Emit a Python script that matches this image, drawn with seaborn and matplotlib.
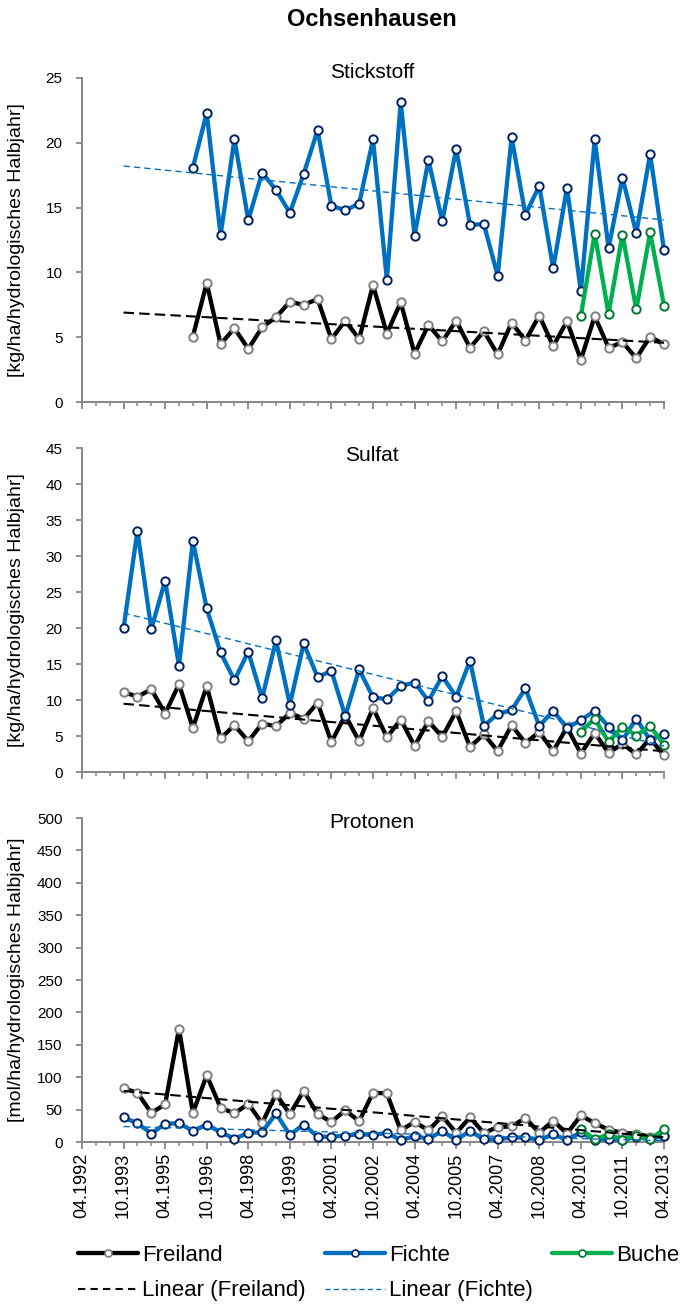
import numpy as np
import pandas as pd
import seaborn as sns
import matplotlib.pyplot as plt
from matplotlib.lines import Line2D
from matplotlib.ticker import MultipleLocator

# half-years from 10.1993 to 04.2013
halbjahre = ["10.1993", "04.1994", "10.1994", "04.1995", "10.1995", "04.1996", "10.1996",
             "04.1997", "10.1997", "04.1998", "10.1998", "04.1999", "10.1999", "04.2000",
             "10.2000", "04.2001", "10.2001", "04.2002", "10.2002", "04.2003", "10.2003",
             "04.2004", "10.2004", "04.2005", "10.2005", "04.2006", "10.2006", "04.2007",
             "10.2007", "04.2008", "10.2008", "04.2009", "10.2009", "04.2010", "10.2010",
             "04.2011", "10.2011", "04.2012", "10.2012", "04.2013"]

achsen_labels = ["04.1992", "10.1993", "04.1995", "10.1996", "04.1998", "10.1999", "04.2001",
                 "10.2002", "04.2004", "10.2005", "04.2007", "10.2008", "04.2010", "10.2011",
                 "04.2013"]

nan = np.nan

# Stickstoff [kg/ha/hydrologisches Halbjahr]
n_freiland = [nan] * 5 + [5.05, 9.18, 4.46, 5.69, 4.10, 5.77, 6.54, 7.74, 7.49, 7.95, 4.85, 6.28,
                          4.85, 9.03, 5.28, 7.69, 3.72, 5.95, 4.67, 6.28, 4.18, 5.46, 3.67, 6.13,
                          4.74, 6.67, 4.31, 6.23, 3.26, 6.62, 4.18, 4.62, 3.38, 5.05, 4.44]
n_fichte = [nan] * 5 + [18.08, 22.3, 12.87, 20.3, 14.03, 17.7, 16.36, 14.6, 17.6, 20.97, 15.13,
                        14.8, 15.3, 20.26, 9.44, 23.13, 12.82, 18.67, 13.95, 19.54, 13.67, 13.72,
                        9.74, 20.44, 14.46, 16.67, 10.31, 16.54, 8.54, 20.26, 11.87, 17.31, 13.03,
                        19.13, 11.72]
n_buche = [nan] * 33 + [6.64, 13.0, 6.79, 12.92, 7.15, 13.08, 7.44]

# Sulfat
s_freiland = [11.13, 10.44, 11.5, 8.12, 12.2, 6.12, 11.92, 4.68, 6.49, 4.27, 6.73, 6.35, 8.21,
              7.37, 9.6, 4.17, 7.88, 4.27, 8.9, 4.82, 7.28, 3.62, 7.05, 4.87, 8.44, 3.48, 5.24,
              2.92, 6.49, 4.04, 5.57, 2.88, 6.22, 2.55, 5.43, 2.64, 3.94, 2.46, 4.64, 2.32]
s_fichte = [19.99, 33.49, 19.85, 26.58, 14.75, 32.05, 22.73, 16.6, 12.75, 16.7, 10.25, 18.27,
            9.37, 17.86, 13.17, 14.05, 7.75, 14.24, 10.39, 10.1, 11.92, 12.43, 9.88, 13.31,
            10.44, 15.45, 6.4, 8.07, 8.58, 11.6, 6.4, 8.49, 6.12, 7.19, 8.49, 6.31, 4.41, 7.42,
            4.41, 5.33]
s_buche = [nan] * 33 + [5.57, 7.42, 4.17, 6.31, 5.06, 6.4, 3.76]

# Protonen [mol/ha/hydrologisches Halbjahr]
p_freiland = [83, 76, 45, 58, 175, 45, 103, 53, 44, 59, 29, 74, 43, 79, 43, 31, 49, 32, 76,
              75, 18, 31, 18, 40, 14, 38, 14, 23, 24, 37, 14, 33, 13, 41, 29, 19, 14, 13, 8, 9]
p_fichte = [38, 29, 13, 28, 29, 17, 27, 15, 5, 14, 15, 44, 11, 27, 8, 8, 10, 12, 11,
            14, 3, 9, 5, 17, 3, 17, 4, 4, 7, 7, 3, 12, 3, 15, 3, 5, 3, 8, 4, 10]
p_buche = [nan] * 33 + [20, 4, 12, 3, 10, 4, 20]


def pos(lbl):
    m, y = lbl.split(".")
    return (int(y) - 1992) * 2 + (1 if m == "10" else 0)


sns.set_theme(style="ticks")
plt.rcParams["font.family"] = ["Liberation Sans", "DejaVu Sans"]
plt.rcParams["text.color"] = "black"
plt.rcParams["axes.labelcolor"] = "black"

W, H = 683, 1309
fig = plt.figure(figsize=(W / 100, H / 100), dpi=100)

x = [pos(h) for h in halbjahre]
grau = "#868686"
stil = {
    "Freiland": dict(color="black", mec="#7f7f7f"),
    "Fichte": dict(color="#0070C0", mec="#002060"),
    "Buche": dict(color="#00B050", mec="#00782F"),
}

panels = [
    ("Stickstoff", 78, 402, 25, 5, 73, "[kg/ha/hydrologisches Halbjahr]",
     n_freiland, n_fichte, n_buche),
    ("Sulfat", 448, 772, 45, 5, 455, "[kg/ha/hydrologisches Halbjahr]",
     s_freiland, s_fichte, s_buche),
    ("Protonen", 818, 1142, 500, 50, 822, "[mol/ha/hydrologisches Halbjahr]",
     p_freiland, p_fichte, p_buche),
]

for k, (name, top, bot, ymax, ystep, ty, ylab, fr, fi, bu) in enumerate(panels):
    ax = fig.add_axes([82 / W, 1 - bot / H, 582 / W, (bot - top) / H])
    df = pd.DataFrame({"x": x, "Freiland": fr, "Fichte": fi, "Buche": bu})

    for serie in ["Freiland", "Fichte", "Buche"]:
        sns.lineplot(data=df, x="x", y=serie, ax=ax, color=stil[serie]["color"],
                     linewidth=3.1, marker="o", markersize=6, markerfacecolor="white",
                     mec=stil[serie]["mec"], mew=1.4, errorbar=None, clip_on=False, zorder=3)

    # linear trends
    tx = np.array([x[0], x[-1]])
    for serie, col, lw, dash in [("Freiland", "black", 1.5, (5, 2.5)),
                                 ("Fichte", "#0070C0", 1.0, (4.5, 3))]:
        d = df.dropna(subset=[serie])
        coef = np.polyfit(d["x"], d[serie], 1)
        ax.plot(tx, np.polyval(coef, tx), color=col, lw=lw, dashes=dash, zorder=4)

    ax.set_xlim(0, 42)
    ax.set_ylim(0, ymax)
    ax.yaxis.set_major_locator(MultipleLocator(ystep))
    ax.set_xticks([pos(a) for a in achsen_labels])
    ax.xaxis.set_minor_locator(MultipleLocator(1))
    if k == 2:
        ax.set_xticklabels(achsen_labels, rotation=90, fontsize=13)
    else:
        ax.set_xticklabels([])
    ax.set_xlabel("")
    ax.set_ylabel(ylab, fontsize=14)
    ax.yaxis.set_label_coords(-0.098, 0.5)

    for s in ["top", "right"]:
        ax.spines[s].set_visible(False)
    for s in ["left", "bottom"]:
        ax.spines[s].set_color(grau)
        ax.spines[s].set_linewidth(1.4)
    ax.tick_params(axis="y", colors=grau, labelcolor="black", length=4, width=1.3,
                   labelsize=11, pad=10)
    ax.tick_params(axis="x", which="major", colors=grau, labelcolor="black", length=5,
                   width=1.3, pad=3)
    ax.tick_params(axis="x", which="minor", colors=grau, length=3, width=1.1)
    ax.grid(False)

    fig.text(372 / W, 1 - ty / H, name, ha="center", va="center", fontsize=15)

fig.text(372 / W, 1 - 20 / H, "Ochsenhausen", ha="center", va="center", fontsize=17,
         fontweight="bold")

handles = [
    Line2D([], [], color="black", lw=3.1, marker="o", ms=5, mfc="white", mec="#7f7f7f", mew=1.2),
    Line2D([], [], color="black", lw=1.5, dashes=(3.5, 2.5)),
    Line2D([], [], color="#0070C0", lw=3.1, marker="o", ms=5, mfc="white", mec="#002060", mew=1.2),
    Line2D([], [], color="#0070C0", lw=1.0, dashes=(3.6, 2.5)),
    Line2D([], [], color="#00B050", lw=3.1, marker="o", ms=5, mfc="white", mec="#00782F", mew=1.2),
]
labels = ["Freiland", "Linear (Freiland)", "Fichte", "Linear (Fichte)", "Buche"]
fig.legend(handles, labels, loc="upper left", bbox_to_anchor=(78 / W, 1 - 1245 / H), ncol=3,
           frameon=False, fontsize=16, handlelength=2.7, handletextpad=0.2,
           columnspacing=0.85, borderaxespad=0, borderpad=0, labelspacing=0.65, numpoints=1)

fig.savefig("out.png", dpi=100)
